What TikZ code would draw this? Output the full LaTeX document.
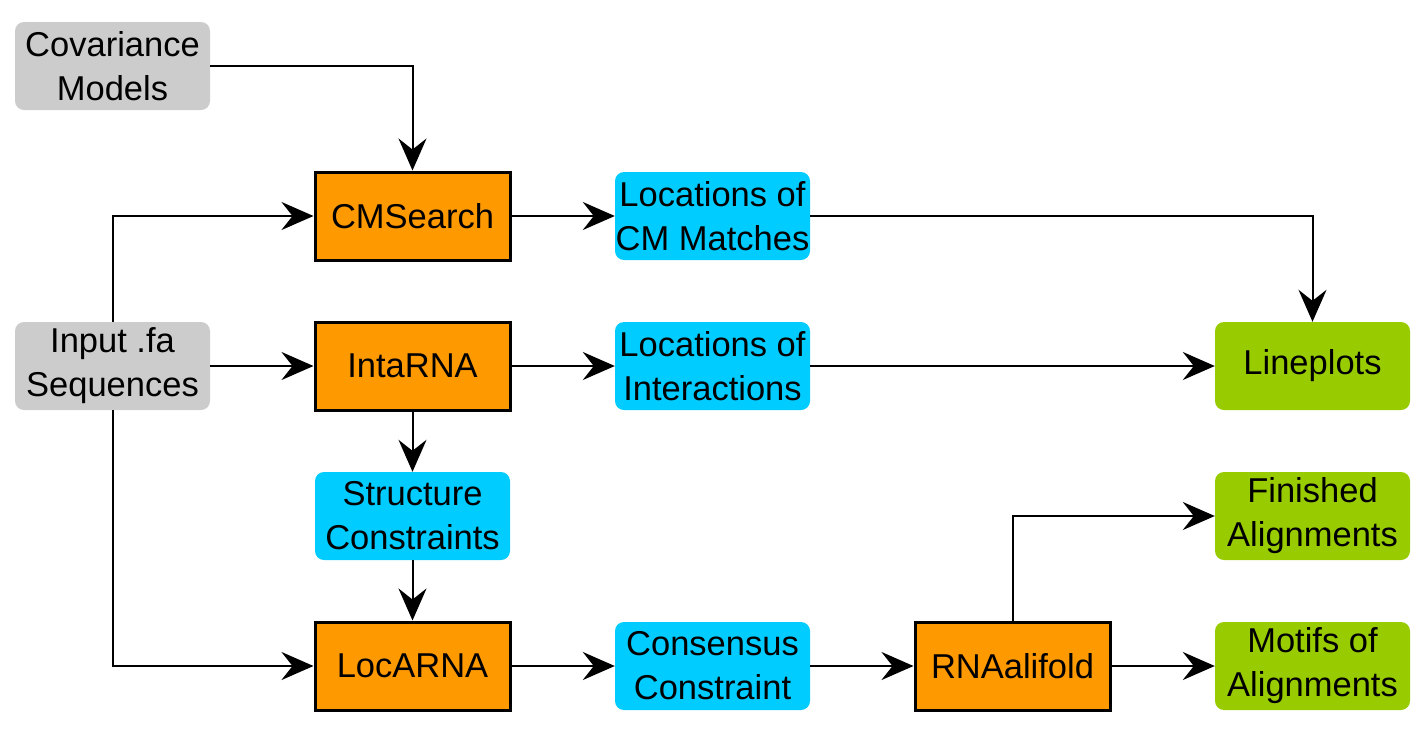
\documentclass[tikz,border=0pt]{standalone}
\usepackage{fontspec}
\setmainfont{Liberation Sans}
\usetikzlibrary{arrows.meta}
\definecolor{grayb}{HTML}{CCCCCC}
\definecolor{orangeb}{HTML}{FF9900}
\definecolor{blueb}{HTML}{00CCFF}
\definecolor{greenb}{HTML}{99CC00}
\tikzset{
  box/.style={minimum width=195pt, minimum height=88pt, inner sep=0pt, align=center,
    font=\fontsize{34.5}{44}\selectfont},
  inbox/.style={box, fill=grayb, rounded corners=9pt},
  proc/.style={box, fill=orangeb, draw=black, line width=3pt},
  data/.style={box, fill=blueb, rounded corners=9pt},
  outb/.style={box, fill=greenb, rounded corners=9pt},
  conn/.style={line width=2pt, -{Stealth[length=32pt, width=28pt, inset=11pt]}},
}
\begin{document}
\begin{tikzpicture}[x=1pt, y=-1pt]
\useasboundingbox (0,0) rectangle (1425,732);
\node[inbox] (cov) at (112.5,66) {Covariance\\Models};
\node[inbox] (inp) at (112.5,366) {Input .fa\\Sequences};
\node[proc] (cms) at (412.5,216) {CMSearch};
\node[proc] (int) at (412.5,366) {IntaRNA};
\node[proc] (loc) at (412.5,666) {LocARNA};
\node[proc] (rna) at (1012.5,666) {RNAalifold};
\node[data] (lcm) at (712.5,216) {Locations of\\CM Matches};
\node[data] (lin) at (712.5,366) {Locations of\\Interactions};
\node[data] (str) at (412.5,516) {Structure\\Constraints};
\node[data] (con) at (712.5,666) {Consensus\\Constraint};
\node[outb] (lp) at (1312.5,366) {Lineplots};
\node[outb] (fin) at (1312.5,516) {Finished\\Alignments};
\node[outb] (mot) at (1312.5,666) {Motifs of\\Alignments};

\draw[conn] (cov.east) -| (cms.north);
\draw[conn] (inp.north) |- (cms.west);
\draw[conn] (inp.east) -- (int.west);
\draw[conn] (inp.south) |- (loc.west);
\draw[conn] (cms.east) -- (lcm.west);
\draw[conn] (lcm.east) -| (lp.north);
\draw[conn] (int.east) -- (lin.west);
\draw[conn] (lin.east) -- (lp.west);
\draw[conn] (int.south) -- (str.north);
\draw[conn] (str.south) -- (loc.north);
\draw[conn] (loc.east) -- (con.west);
\draw[conn] (con.east) -- (rna.west);
\draw[conn] (rna.east) -- (mot.west);
\draw[conn] (rna.north) |- (fin.west);
\end{tikzpicture}
\end{document}
